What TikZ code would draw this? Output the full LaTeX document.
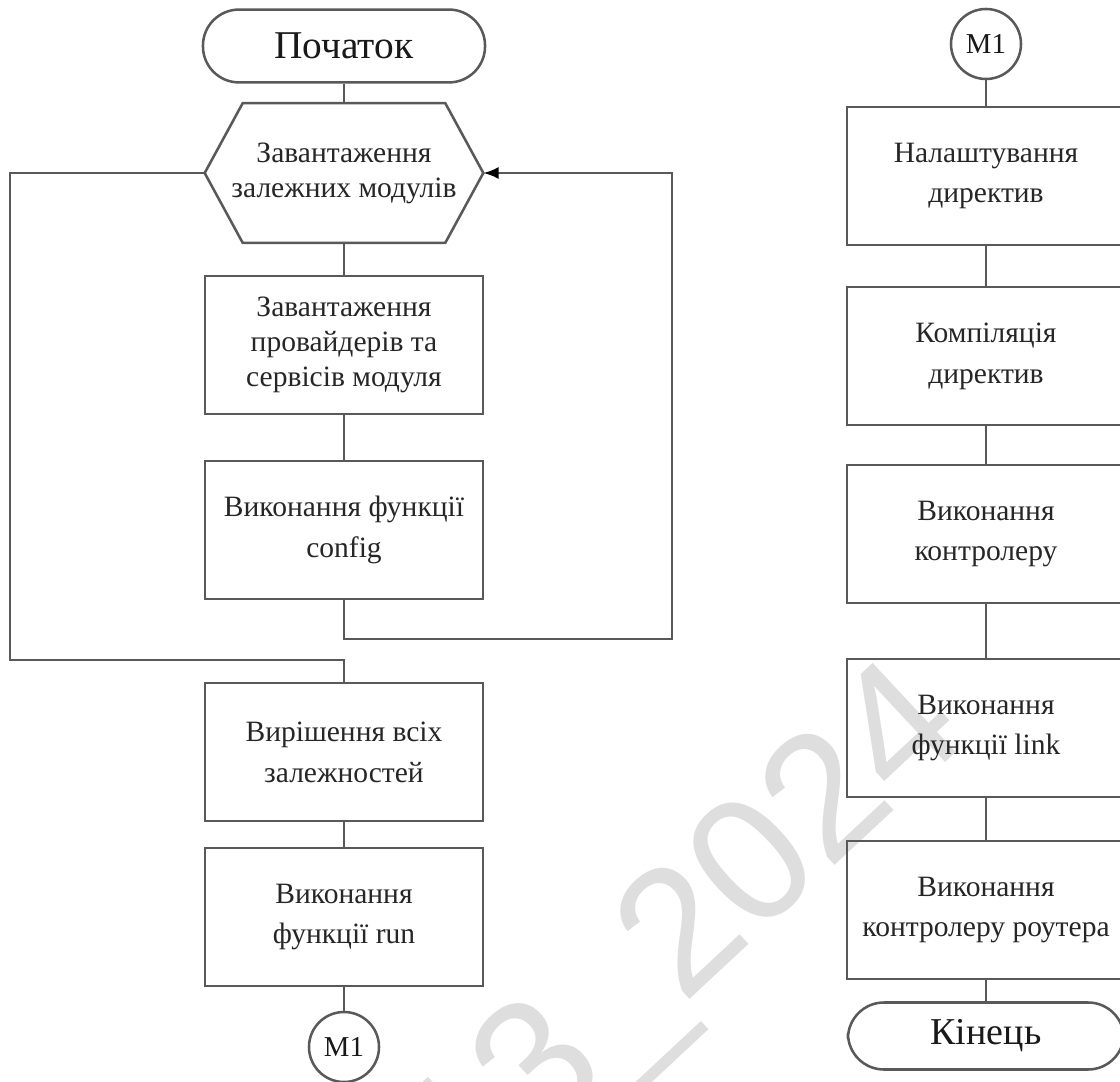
\documentclass[tikz,border=0pt]{standalone}
\usepackage{fontspec}
\setmainfont{Liberation Serif}
\newfontfamily\wmfont{Liberation Sans}
\usetikzlibrary{arrows.meta,positioning,calc}

\tikzset{
    flowline/.style={draw=black!65, line width=1.8pt},
    txt/.style={align=center, text=black!85, font=\fontsize{21}{29}\selectfont},
    box/.style={flowline, txt, rectangle, minimum width=6.95cm, minimum height=3.45cm, inner sep=0pt},
    term/.style={flowline, rectangle, rounded corners=0.9cm, minimum width=7.05cm, minimum height=1.82cm,
        text=black!90, font=\fontsize{28}{32}\selectfont},
    conn/.style={flowline, circle, minimum size=1.75cm, inner sep=0pt, text=black!90,
        font=\fontsize{20.5}{24}\selectfont},
    wmark/.style={text=black!13, font=\wmfont\fontsize{126}{130}\selectfont},
}

\begin{document}
\begin{tikzpicture}[x=0.025cm, y=-0.025cm]
    \useasboundingbox (0,0) rectangle (1120,1082);

    % watermark
    \node[wmark, rotate=43, anchor=base] (stamp) at (720,972) {13\_2024};

    % Left column
    \node[term] (start) at (344,46) {Початок};
    \node[txt, minimum width=6.95cm, minimum height=3.475cm, font=\fontsize{21}{25}\selectfont] (load) at (344,173)
        {Завантаження\\залежних модулів};
    \draw[flowline] ($(load.north west)+(38,0)$) -- ($(load.north east)+(-38,0)$) -- (load.east)
        -- ($(load.south east)+(-38,0)$) -- ($(load.south west)+(38,0)$) -- (load.west) -- cycle;
    \node[box, font=\fontsize{21}{25}\selectfont] (prov) at (344,345) {Завантаження\\провайдерів та\\сервісів модуля};
    \node[box] (conf) at (344,530) {Виконання функції\\config};
    \node[box] (res) at (344,752) {Вирішення всіх\\залежностей};
    \node[box] (run) at (344,917) {Виконання\\функції run};
    \node[conn] (m1a) at (344,1047) {M1};

    \coordinate (loopR) at (672,639);
    \coordinate (loopL) at (10,660);

    \draw[flowline] (start) -- (load);
    \draw[flowline] (load) -- (prov);
    \draw[flowline] (prov) -- (conf);
    \draw[flowline, -{Latex[length=0.38cm, width=0.3cm, color=black]}] (conf.south) |- (loopR) |- (load.east);
    \draw[flowline] (load.west) -| (loopL) -| (res.north);
    \draw[flowline] (res) -- (run);
    \draw[flowline] (run) -- (m1a);

    % Right column
    \node[conn] (m1b) at (986,44) {M1};
    \node[box] (tune) at (986,176) {Налаштування\\директив};
    \node[box] (comp) at (986,356) {Компіляція\\директив};
    \node[box] (ctrl) at (986,534) {Виконання\\контролеру};
    \node[box] (link) at (986,728) {Виконання\\функції link};
    \node[box] (route) at (986,910) {Виконання\\контролеру роутера};
    \node[term, minimum width=6.9cm, minimum height=1.675cm, font=\fontsize{27}{31}\selectfont] (end) at (986,1036) {Кінець};

    \foreach \a/\b in {m1b/tune, tune/comp, comp/ctrl, ctrl/link, link/route, route/end}
        \draw[flowline] (\a) -- (\b);
\end{tikzpicture}
\end{document}
